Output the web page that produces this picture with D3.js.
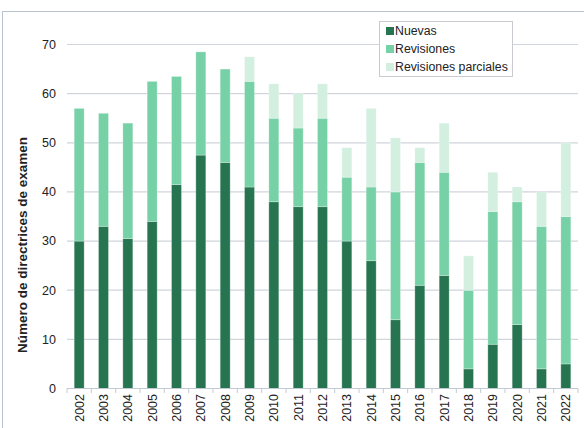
<!DOCTYPE html>
<html>
<head>
<meta charset="utf-8">
<script src="https://cdn.jsdelivr.net/npm/d3@7"></script>
<style>
  body { margin: 0; background: #fff; }
  text { font-family: "Liberation Sans", Arial, sans-serif; fill: #222; }
</style>
</head>
<body>
<script>
// years on the x axis
var years = ["2002","2003","2004","2005","2006","2007","2008","2009","2010","2011","2012",
             "2013","2014","2015","2016","2017","2018","2019","2020","2021","2022"];
// series values
var nuevas      = [30, 33, 30.5, 34, 41.5, 47.5, 46, 41, 38, 37, 37, 30, 26, 14, 21, 23, 4, 9, 13, 4, 5];
var revisiones  = [27, 23, 23.5, 28.5, 22, 21, 19, 21.5, 17, 16, 18, 13, 15, 26, 25, 21, 16, 27, 25, 29, 30];
var parciales   = [0, 0, 0, 0, 0, 0, 0, 5, 7, 7, 7, 6, 16, 11, 3, 10, 7, 8, 3, 7, 15];
var yTicks = [0, 10, 20, 30, 40, 50, 60, 70];

var seriesNames = ["Nuevas", "Revisiones", "Revisiones parciales"];
var colors = ["#277550", "#77d1a6", "#d3efe0"];

var W = 584, H = 428;
var margin = {left: 67, right: 6, top: 44, bottom: 40};

var rows = years.map(function(y, i) {
  return {year: y, "Nuevas": nuevas[i], "Revisiones": revisiones[i], "Revisiones parciales": parciales[i]};
});

var svg = d3.select("body").append("svg")
  .attr("width", W)
  .attr("height", H);

// outer frame
svg.append("rect")
  .attr("x", 2.5).attr("y", 11.5)
  .attr("width", W + 10).attr("height", H + 10)
  .attr("fill", "none")
  .attr("stroke", "#b9c5d2");

var x = d3.scaleBand()
  .domain(years)
  .range([margin.left, W - margin.right])
  .paddingInner(0.59)
  .paddingOuter(0.295);

var y = d3.scaleLinear()
  .domain([0, 70])
  .range([388.5, 44.5]);

// gridlines
svg.append("g")
  .selectAll("line")
  .data(yTicks.filter(function(d) { return d > 0; }))
  .enter().append("line")
  .attr("x1", margin.left)
  .attr("x2", W - margin.right)
  .attr("y1", function(d) { return y(d); })
  .attr("y2", function(d) { return y(d); })
  .attr("stroke", "#d0d5dc")
  .attr("stroke-width", 1.2);

// y tick labels
svg.append("g")
  .selectAll("text")
  .data(yTicks)
  .enter().append("text")
  .attr("x", 56)
  .attr("y", function(d) { return y(d); })
  .attr("dy", "0.35em")
  .attr("text-anchor", "end")
  .style("font-size", "12.5px")
  .text(function(d) { return d; });

// stacked bars
var stack = d3.stack().keys(seriesNames);
var layers = stack(rows);

svg.append("g")
  .selectAll("g")
  .data(layers)
  .enter().append("g")
  .attr("fill", function(d, i) { return colors[i]; })
  .selectAll("rect")
  .data(function(d) { return d; })
  .enter().append("rect")
  .attr("x", function(d) { return x(d.data.year); })
  .attr("width", x.bandwidth())
  .attr("y", function(d) { return y(d[1]); })
  .attr("height", function(d) { return y(d[0]) - y(d[1]); })
  .attr("stroke", "#ffffff")
  .attr("stroke-opacity", 0.35)
  .attr("stroke-width", 0.8);

// x axis line with category separators
var xAxis = svg.append("g");
xAxis.append("line")
  .attr("x1", margin.left).attr("x2", W - margin.right)
  .attr("y1", 388.5).attr("y2", 388.5)
  .attr("stroke", "#c3cad3")
  .attr("stroke-width", 1.2);

var step = x.step();
xAxis.selectAll("line.tick")
  .data(d3.range(years.length + 1))
  .enter().append("line")
  .attr("class", "tick")
  .attr("x1", function(i) { return margin.left + i * step; })
  .attr("x2", function(i) { return margin.left + i * step; })
  .attr("y1", 388.5).attr("y2", 393)
  .attr("stroke", "#c3cad3");

xAxis.selectAll("text")
  .data(years)
  .enter().append("text")
  .attr("transform", function(d) {
    return "translate(" + (x(d) + x.bandwidth() / 2) + ",394) rotate(-90)";
  })
  .attr("dy", "0.36em")
  .attr("text-anchor", "end")
  .style("font-size", "12.5px")
  .text(function(d) { return d; });

// y axis title
svg.append("text")
  .attr("transform", "translate(22,245) rotate(-90)")
  .attr("text-anchor", "middle")
  .attr("dy", "0.35em")
  .style("font-size", "13.5px")
  .style("font-weight", "bold")
  .text("Número de directrices de examen");

// legend
var legend = svg.append("g");
legend.append("rect")
  .attr("x", 379.5).attr("y", 21.5)
  .attr("width", 133).attr("height", 55)
  .attr("fill", "#fff")
  .attr("stroke", "#c8ccd0");

var items = legend.selectAll("g.item")
  .data(seriesNames)
  .enter().append("g")
  .attr("class", "item")
  .attr("transform", function(d, i) { return "translate(386," + (31 + i * 18) + ")"; });

items.append("rect")
  .attr("x", 0).attr("y", -4)
  .attr("width", 8).attr("height", 8)
  .attr("fill", function(d, i) { return colors[i]; });

items.append("text")
  .attr("x", 9)
  .attr("dy", "0.35em")
  .style("font-size", "12.3px")
  .text(function(d) { return d; });
</script>
</body>
</html>
